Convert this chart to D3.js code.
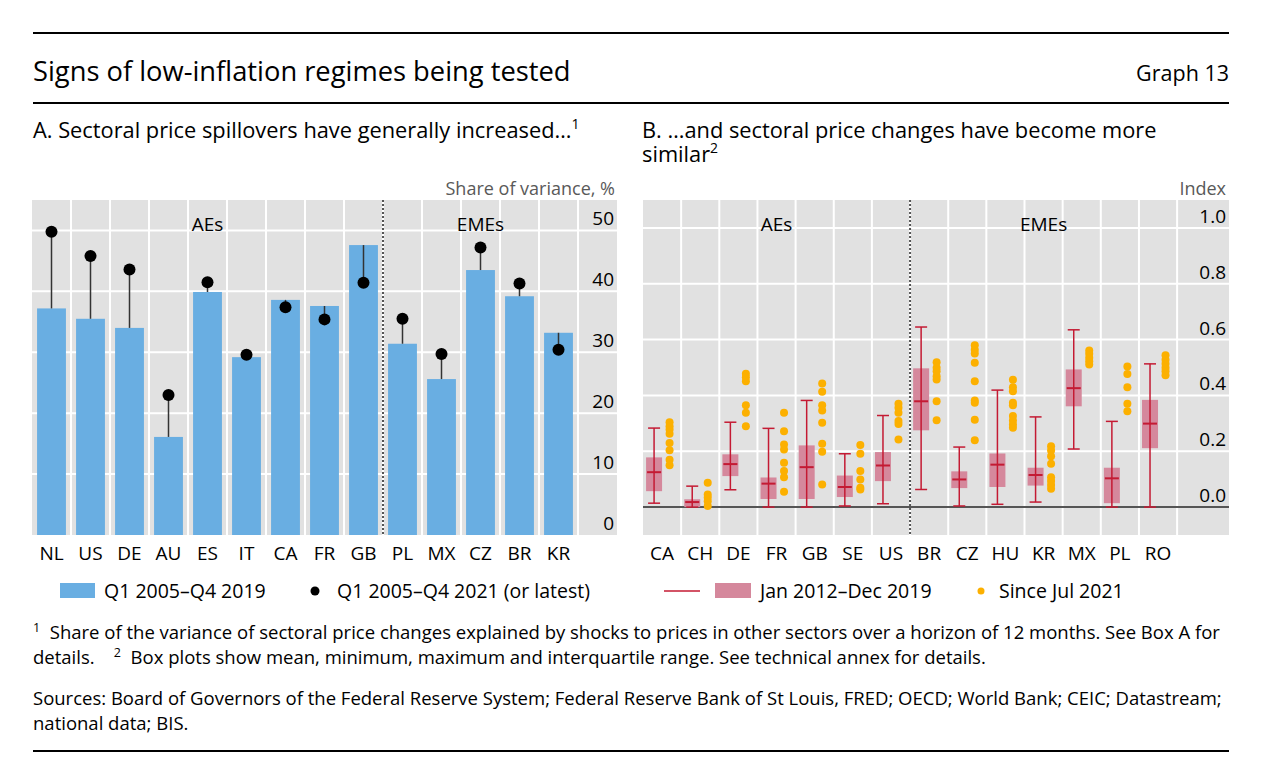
<!DOCTYPE html>
<html>
<head>
<meta charset="utf-8">
<script src="https://cdn.jsdelivr.net/npm/d3@7"></script>
<style>
  body { margin: 0; background: #fff; }
  text { font-family: "Open Sans", "Noto Sans", sans-serif; fill: #000; }
</style>
</head>
<body>
<div id="chart"></div>
<script>
// Panel A: spillover shares
const catsA = ["NL", "US", "DE", "AU", "ES", "IT", "CA", "FR", "GB", "PL", "MX", "CZ", "BR", "KR"];
const barsA = [37.2, 35.5, 34.0, 16.1, 39.9, 29.2, 38.6, 37.6, 47.6, 31.4, 25.6, 43.5, 39.2, 33.2];
const dotsA = [49.8, 45.8, 43.6, 23.0, 41.5, 29.6, 37.4, 35.4, 41.4, 35.5, 29.7, 47.2, 41.3, 30.4];
const ticksA = [0, 10, 20, 30, 40, 50];

// Panel B: box plots of similarity index
const catsB = ["CA", "CH", "DE", "FR", "GB", "SE", "US", "BR", "CZ", "HU", "KR", "MX", "PL", "RO"];
const minB  = [0.014, 0.000, 0.062, 0.000, 0.000, 0.004, 0.012, 0.063, 0.004, 0.010, 0.018, 0.208, 0.000, 0.000];
const q1B   = [0.057, 0.000, 0.111, 0.029, 0.029, 0.036, 0.093, 0.275, 0.068, 0.072, 0.077, 0.361, 0.014, 0.211];
const meanB = [0.125, 0.018, 0.154, 0.084, 0.143, 0.072, 0.149, 0.379, 0.099, 0.152, 0.115, 0.426, 0.103, 0.299];
const q3B   = [0.178, 0.028, 0.189, 0.106, 0.221, 0.113, 0.197, 0.497, 0.128, 0.192, 0.141, 0.493, 0.141, 0.384];
const maxB  = [0.283, 0.075, 0.304, 0.282, 0.382, 0.191, 0.328, 0.645, 0.215, 0.419, 0.323, 0.635, 0.307, 0.513];
const recentB = [
  [0.304, 0.290, 0.278, 0.263, 0.230, 0.204, 0.170, 0.150],
  [0.087, 0.045, 0.034, 0.021, 0.004],
  [0.478, 0.465, 0.451, 0.365, 0.338, 0.290],
  [0.338, 0.272, 0.224, 0.206, 0.159, 0.129, 0.107, 0.055],
  [0.443, 0.413, 0.365, 0.346, 0.302, 0.227, 0.198, 0.081],
  [0.222, 0.191, 0.129, 0.099, 0.069, 0.063],
  [0.370, 0.356, 0.338, 0.308, 0.298, 0.242],
  [0.519, 0.499, 0.487, 0.469, 0.457, 0.379, 0.311],
  [0.580, 0.564, 0.550, 0.517, 0.451, 0.382, 0.374, 0.313, 0.239],
  [0.456, 0.429, 0.415, 0.374, 0.365, 0.326, 0.310, 0.296, 0.284],
  [0.218, 0.203, 0.182, 0.155, 0.107, 0.093, 0.079, 0.066],
  [0.561, 0.549, 0.535, 0.522, 0.511],
  [0.504, 0.477, 0.429, 0.370, 0.343],
  [0.544, 0.528, 0.513, 0.499, 0.487, 0.472]
];
const ticksB = [0, 0.2, 0.4, 0.6, 0.8, 1.0];

const blue = "#69aee2", pink = "#d5889c", red = "#c41a33", gold = "#fcb000", grey = "#e1e1e1";
const fs = 19;

const svg = d3.select("#chart").append("svg")
    .attr("width", 1274)
    .attr("height", 780);

// header rules and titles
[33, 103, 751].forEach(y => {
    svg.append("line").attr("x1", 33).attr("x2", 1229).attr("y1", y).attr("y2", y)
        .attr("stroke", "#000").attr("stroke-width", 2);
});
svg.append("text").attr("x", 33).attr("y", 81).attr("font-size", 27.3)
    .text("Signs of low-inflation regimes being tested");
svg.append("text").attr("x", 1229).attr("y", 81).attr("font-size", 21.5).attr("text-anchor", "end")
    .text("Graph 13");

const titleA = svg.append("text").attr("x", 33).attr("y", 138).attr("font-size", 21.8);
titleA.append("tspan").text("A. Sectoral price spillovers have generally increased…");
titleA.append("tspan").attr("font-size", 14).attr("dy", -9).text("1");

svg.append("text").attr("x", 642).attr("y", 138).attr("font-size", 21.8)
    .text("B. …and sectoral price changes have become more");
const titleB2 = svg.append("text").attr("x", 642).attr("y", 162).attr("font-size", 21.8);
titleB2.append("tspan").text("similar");
titleB2.append("tspan").attr("font-size", 14).attr("dy", -9).text("2");

svg.append("text").attr("x", 615).attr("y", 195).attr("font-size", 18).attr("text-anchor", "end")
    .style("fill", "#595959").text("Share of variance, %");
svg.append("text").attr("x", 1226).attr("y", 195).attr("font-size", 18).attr("text-anchor", "end")
    .style("fill", "#595959").text("Index");

// ---------- Panel A ----------
const plotA = {left: 32, right: 617, top: 200, bottom: 535};
const xA = d3.scaleBand().domain(catsA).range([plotA.left, plotA.left + 14 * 39]);
const yA = d3.scaleLinear().domain([0, 55]).range([plotA.bottom, plotA.top]);

const gA = svg.append("g");
gA.append("rect")
    .attr("x", plotA.left).attr("y", plotA.top)
    .attr("width", plotA.right - plotA.left).attr("height", plotA.bottom - plotA.top)
    .attr("fill", grey);

gA.append("g").selectAll("line.v")
    .data(catsA)
    .enter().append("line")
    .attr("x1", d => xA(d) + xA.bandwidth()).attr("x2", d => xA(d) + xA.bandwidth())
    .attr("y1", plotA.top).attr("y2", plotA.bottom)
    .attr("stroke", "#fff").attr("stroke-width", 2);

gA.append("g").selectAll("line.h")
    .data(ticksA.slice(1))
    .enter().append("line")
    .attr("x1", plotA.left).attr("x2", plotA.right)
    .attr("y1", d => yA(d)).attr("y2", d => yA(d))
    .attr("stroke", "#fff").attr("stroke-width", 2);

gA.append("g").selectAll("text")
    .data(ticksA)
    .enter().append("text")
    .attr("x", plotA.right - 3)
    .attr("y", d => yA(d) - 5)
    .attr("text-anchor", "end")
    .attr("font-size", fs)
    .text(d => d);

const bwA = xA.bandwidth() * 0.74;
gA.append("g").selectAll("rect")
    .data(catsA)
    .enter().append("rect")
    .attr("x", d => xA(d) + (xA.bandwidth() - bwA) / 2)
    .attr("width", bwA)
    .attr("y", (d, i) => yA(barsA[i]))
    .attr("height", (d, i) => yA(0) - yA(barsA[i]))
    .attr("fill", blue);

gA.append("line")
    .attr("x1", xA("PL")).attr("x2", xA("PL"))
    .attr("y1", plotA.top).attr("y2", plotA.bottom)
    .attr("stroke", "#555").attr("stroke-width", 2).attr("stroke-dasharray", "2,2");

gA.append("g").selectAll("line")
    .data(catsA)
    .enter().append("line")
    .attr("x1", d => xA(d) + xA.bandwidth() / 2).attr("x2", d => xA(d) + xA.bandwidth() / 2)
    .attr("y1", (d, i) => yA(barsA[i])).attr("y2", (d, i) => yA(dotsA[i]))
    .attr("stroke", "#333").attr("stroke-width", 1.5);

gA.append("g").selectAll("circle")
    .data(catsA)
    .enter().append("circle")
    .attr("cx", d => xA(d) + xA.bandwidth() / 2)
    .attr("cy", (d, i) => yA(dotsA[i]))
    .attr("r", 6)
    .attr("fill", "#000");

gA.append("g").selectAll("text")
    .data(catsA)
    .enter().append("text")
    .attr("x", d => xA(d) + xA.bandwidth() / 2)
    .attr("y", 560)
    .attr("text-anchor", "middle")
    .attr("font-size", fs)
    .text(d => d);

gA.append("text").attr("x", (plotA.left + xA("PL")) / 2).attr("y", 231)
    .attr("text-anchor", "middle").attr("font-size", fs).text("AEs");
gA.append("text").attr("x", (xA("PL") + xA("KR") + xA.bandwidth()) / 2).attr("y", 231)
    .attr("text-anchor", "middle").attr("font-size", fs).text("EMEs");

// legend A
gA.append("rect").attr("x", 60).attr("y", 583).attr("width", 35).attr("height", 15).attr("fill", blue);
gA.append("text").attr("x", 104).attr("y", 598).attr("font-size", 19.5).text("Q1 2005–Q4 2019");
gA.append("circle").attr("cx", 315).attr("cy", 591).attr("r", 4.5).attr("fill", "#000");
gA.append("text").attr("x", 337).attr("y", 598).attr("font-size", 19.5).text("Q1 2005–Q4 2021 (or latest)");

// ---------- Panel B ----------
const plotB = {left: 643, right: 1229, top: 200, bottom: 535};
const xB = d3.scaleBand().domain(catsB).range([plotB.left, plotB.left + 14 * 38.15]);
const yB = d3.scaleLinear().domain([-0.1, 1.1]).range([plotB.bottom, plotB.top]);

const gB = svg.append("g");
gB.append("rect")
    .attr("x", plotB.left).attr("y", plotB.top)
    .attr("width", plotB.right - plotB.left).attr("height", plotB.bottom - plotB.top)
    .attr("fill", grey);

gB.append("g").selectAll("line")
    .data(catsB)
    .enter().append("line")
    .attr("x1", d => xB(d) + xB.bandwidth()).attr("x2", d => xB(d) + xB.bandwidth())
    .attr("y1", plotB.top).attr("y2", plotB.bottom)
    .attr("stroke", "#fff").attr("stroke-width", 2);

gB.append("g").selectAll("line")
    .data(ticksB.slice(1))
    .enter().append("line")
    .attr("x1", plotB.left).attr("x2", plotB.right)
    .attr("y1", d => yB(d)).attr("y2", d => yB(d))
    .attr("stroke", "#fff").attr("stroke-width", 2);

gB.append("line")
    .attr("x1", plotB.left).attr("x2", plotB.right)
    .attr("y1", yB(0)).attr("y2", yB(0))
    .attr("stroke", "#555").attr("stroke-width", 2);

gB.append("g").selectAll("text")
    .data(ticksB)
    .enter().append("text")
    .attr("x", plotB.right - 3)
    .attr("y", d => yB(d) - 5)
    .attr("text-anchor", "end")
    .attr("font-size", fs)
    .text(d => d3.format(".1f")(d));

gB.append("line")
    .attr("x1", xB("BR")).attr("x2", xB("BR"))
    .attr("y1", plotB.top).attr("y2", plotB.bottom)
    .attr("stroke", "#555").attr("stroke-width", 2).attr("stroke-dasharray", "2,2");

const boxX = d => xB(d) + xB.bandwidth() / 2 - 8;
const dotX = d => xB(d) + xB.bandwidth() / 2 + 7.5;

gB.append("g").selectAll("rect")
    .data(catsB)
    .enter().append("rect")
    .attr("x", d => boxX(d) - 8)
    .attr("width", 16)
    .attr("y", (d, i) => yB(q3B[i]))
    .attr("height", (d, i) => yB(q1B[i]) - yB(q3B[i]))
    .attr("fill", pink);

const whisk = gB.append("g").attr("stroke", red).attr("stroke-width", 1.5);
catsB.forEach((c, i) => {
    const cx = boxX(c);
    whisk.append("line").attr("x1", cx).attr("x2", cx).attr("y1", yB(minB[i])).attr("y2", yB(maxB[i]));
    whisk.append("line").attr("x1", cx - 6).attr("x2", cx + 6).attr("y1", yB(minB[i])).attr("y2", yB(minB[i]));
    whisk.append("line").attr("x1", cx - 6).attr("x2", cx + 6).attr("y1", yB(maxB[i])).attr("y2", yB(maxB[i]));
    whisk.append("line").attr("x1", cx - 7).attr("x2", cx + 7).attr("y1", yB(meanB[i])).attr("y2", yB(meanB[i]))
        .attr("stroke-width", 2);
});

gB.append("g").selectAll("g")
    .data(catsB)
    .enter().append("g")
    .each(function (c, i) {
        d3.select(this).selectAll("circle")
            .data(recentB[i])
            .enter().append("circle")
            .attr("cx", dotX(c))
            .attr("cy", d => yB(d))
            .attr("r", 4)
            .attr("fill", gold);
    });

gB.append("g").selectAll("text")
    .data(catsB)
    .enter().append("text")
    .attr("x", d => xB(d) + xB.bandwidth() / 2)
    .attr("y", 560)
    .attr("text-anchor", "middle")
    .attr("font-size", fs)
    .text(d => d);

gB.append("text").attr("x", (plotB.left + xB("BR")) / 2).attr("y", 231)
    .attr("text-anchor", "middle").attr("font-size", fs).text("AEs");
gB.append("text").attr("x", (xB("BR") + xB("RO") + xB.bandwidth()) / 2).attr("y", 231)
    .attr("text-anchor", "middle").attr("font-size", fs).text("EMEs");

// legend B
gB.append("line").attr("x1", 664).attr("x2", 700).attr("y1", 591).attr("y2", 591)
    .attr("stroke", red).attr("stroke-width", 1.5);
gB.append("rect").attr("x", 715).attr("y", 583).attr("width", 36).attr("height", 15).attr("fill", pink);
gB.append("text").attr("x", 760).attr("y", 598).attr("font-size", 19.5).text("Jan 2012–Dec 2019");
gB.append("circle").attr("cx", 981).attr("cy", 591).attr("r", 3.5).attr("fill", gold);
gB.append("text").attr("x", 999).attr("y", 598).attr("font-size", 19.5).text("Since Jul 2021");

// footnotes
const fnSize = 18.5;
const fn1 = svg.append("text").attr("x", 33).attr("y", 639).attr("font-size", fnSize);
fn1.append("tspan").attr("font-size", 12.5).attr("dy", -7).text("1");
fn1.append("tspan").attr("dy", 7).text("\u00a0 Share of the variance of sectoral price changes explained by shocks to prices in other sectors over a horizon of 12 months. See Box A for");
const fn2 = svg.append("text").attr("x", 33).attr("y", 664).attr("font-size", fnSize);
fn2.append("tspan").text("details.\u00a0\u00a0\u00a0 ");
fn2.append("tspan").attr("font-size", 12.5).attr("dy", -7).text("2");
fn2.append("tspan").attr("dy", 7).text("\u00a0 Box plots show mean, minimum, maximum and interquartile range. See technical annex for details.");
svg.append("text").attr("x", 33).attr("y", 705).attr("font-size", fnSize)
    .text("Sources: Board of Governors of the Federal Reserve System; Federal Reserve Bank of St Louis, FRED; OECD; World Bank; CEIC; Datastream;");
svg.append("text").attr("x", 33).attr("y", 730).attr("font-size", fnSize)
    .text("national data; BIS.");
</script>
</body>
</html>
